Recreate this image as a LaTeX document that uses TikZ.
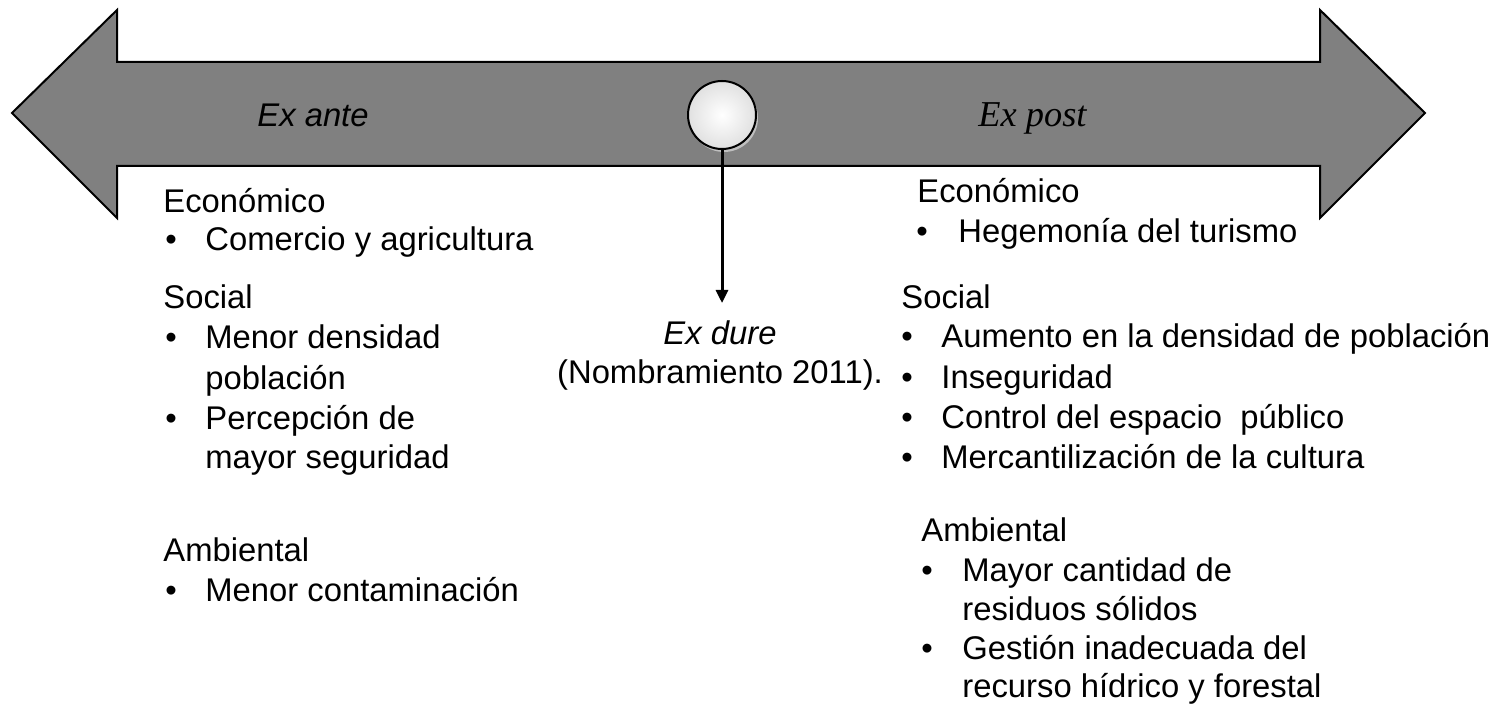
\documentclass[tikz,border=0pt]{standalone}
\usepackage{fontspec}
\setmainfont{Liberation Sans}
\newfontfamily\serifit{Liberation Serif}
\usetikzlibrary{arrows.meta}

\tikzset{
  txt/.style={anchor=base west, inner sep=0pt, font=\fontsize{16.4}{20}\selectfont},
  bul/.style={anchor=base, inner sep=0pt, font=\fontsize{16.4}{20}\selectfont},
}

\begin{document}
\begin{tikzpicture}[x=0.5pt, y=-0.5pt]
            \useasboundingbox (0,0) rectangle (1497,705);
            % double arrow
            \draw[fill=gray, line width=1pt, line join=miter]
                (12,113) -- (117,10) -- (117,62) -- (1320,62) -- (1320,10) -- (1425,113)
                -- (1320,218) -- (1320,166) -- (117,166) -- (117,218) -- cycle;
            \node[txt, font=\fontsize{16.4}{20}\selectfont\itshape] (exante) at (257,127) {Ex ante};
            \node[txt, font=\fontsize{18.2}{20}\selectfont\serifit\itshape] (expost) at (978,127) {Ex post};

            \fill[black!25] (724,118) circle [radius=34];
            \shade[inner color=white, outer color=black!12, draw=black, line width=1pt]
                (722,115) circle [radius=34];
            \node[circle, minimum size=34pt, inner sep=0pt] (hito) at (722,115) {};
            \coordinate (fin) at (722,303);
            \draw[-{Triangle[length=6.5pt, width=6pt]}, line width=1.5pt] (hito.south) -- (fin);
            \node[bul, font=\fontsize{16.4}{20}\selectfont\itshape] (exdure) at (720,344) {Ex dure};
            \node[bul] (nombr) at (720,383) {(Nombramiento 2011).};

            % ex ante
            \node[txt] (econA) at (163,213) {Económico};
            \node[bul] at (171,251) {•};
            \node[txt] (comercio) at (205,251) {Comercio y agricultura};
            \node[txt] (socA) at (163,309) {Social};
            \node[bul] at (171,349) {•};
            \node[txt] (densA) at (205,349) {Menor densidad};
            \node[txt] at (205,389) {población};
            \node[bul] at (171,429) {•};
            \node[txt] (percep) at (205,429) {Percepción de};
            \node[txt] at (205,468) {mayor seguridad};
            \node[txt] (ambA) at (163,561) {Ambiental};
            \node[bul] at (171,601) {•};
            \node[txt] (contam) at (205,601) {Menor contaminación};

            % ex post
            \node[txt] (econB) at (917,203) {Económico};
            \node[bul] at (922,243) {•};
            \node[txt] (hegem) at (958,243) {Hegemonía del turismo};
            \node[txt] (socB) at (901,308) {Social};
            \foreach \t [count=\i] in {Aumento en la densidad de población, Inseguridad,
                Control del espacio\ \ público, Mercantilización de la cultura} {
              \node[bul] at (907,308+40*\i) {•};
              \node[txt] (socB\i) at (941,308+40*\i) {\t};
            }
            \node[txt] (ambB) at (921,541) {Ambiental};
            \node[bul] at (927,581) {•};
            \node[txt] (residuos) at (962,581) {Mayor cantidad de};
            \node[txt] at (962,620) {residuos sólidos};
            \node[bul] at (927,659) {•};
            \node[txt] (gestion) at (962,659) {Gestión inadecuada del};
            \node[txt] at (962,697) {recurso hídrico y forestal};
        \end{tikzpicture}
\end{document}
